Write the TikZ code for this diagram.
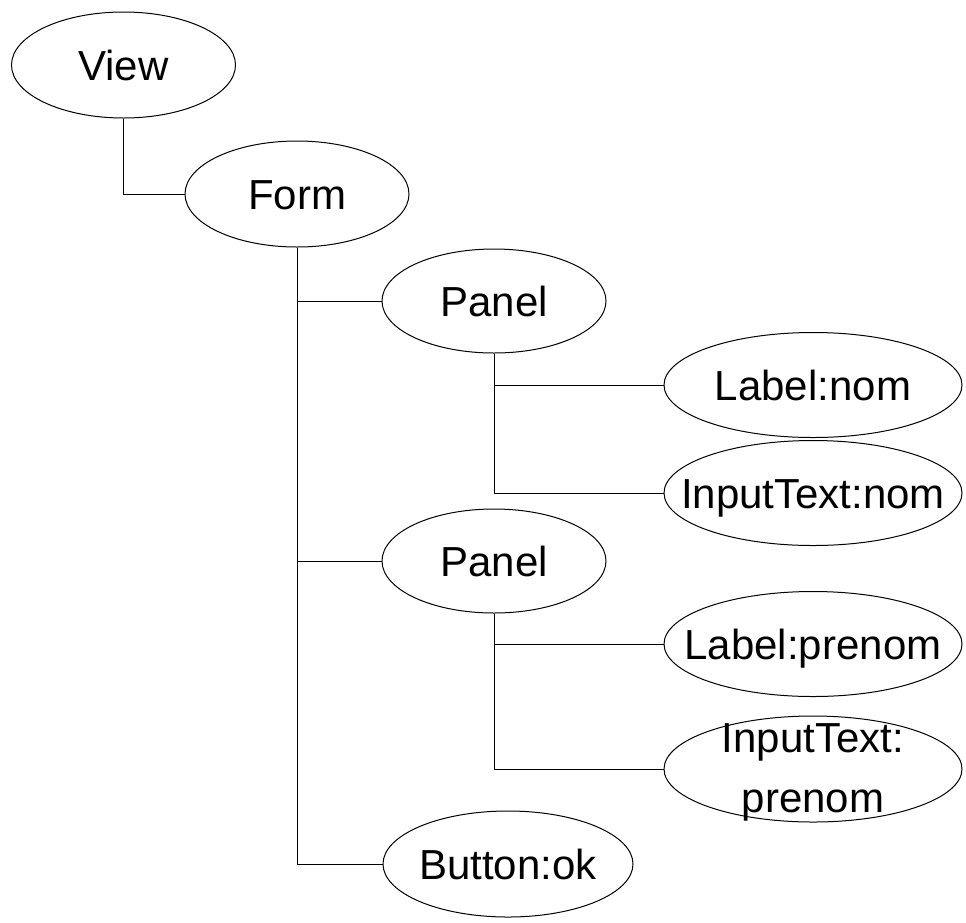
\documentclass[tikz,border=0pt]{standalone}
\usepackage{fontspec}
\setmainfont{Liberation Sans}
\usetikzlibrary{shapes.geometric}

\begin{document}
\begin{tikzpicture}[x=1pt, y=-1pt,
    obj/.style={draw, ellipse, inner sep=0pt, line width=1pt},
    small/.style={minimum width=224pt, minimum height=104pt},
    wide/.style={minimum width=298pt, minimum height=105pt},
    every label/.style={font=\fontsize{42}{60}\selectfont, inner sep=0pt,
        text height=30pt, text depth=0pt, align=center},
    link/.style={line width=1pt}]
    \useasboundingbox (0,0) rectangle (966,922);

    \node[obj, small, minimum height=106pt, label=center:View] (view) at (123.5,65) {};
    \node[obj, small, minimum height=106pt, label=center:Form] (form) at (297,194) {};

    \node[obj, small, label=center:Panel] (panelA) at (494,301) {};
    \node[obj, wide, label={center:{Label:nom}}] (labnom) at (813,385) {};
    \node[obj, wide, label={center:{InputText:nom}}] (inpnom) at (813,493) {};

    \node[obj, small, label=center:Panel] (panelB) at (494,561) {};
    \node[obj, wide, label={center:{Label:prenom}}] (labpre) at (813,644) {};
    \node[obj, wide, minimum height=106pt,
        label={[text height=86pt]center:{InputText:\\prenom}}] (inppre) at (813,769) {};

    \node[obj, minimum width=250pt, minimum height=106pt, label={center:{Button:ok}}] (btnok) at (508,864) {};

    \draw[link] (view.south) |- (form.west);

    \draw[link] (form.south) |- (panelA.west);
    \draw[link] (form.south) |- (panelB.west);
    \draw[link] (form.south) |- (btnok.west);

    \draw[link] (panelA.south) |- (labnom.west);
    \draw[link] (panelA.south) |- (inpnom.west);

    \draw[link] (panelB.south) |- (labpre.west);
    \draw[link] (panelB.south) |- (inppre.west);
\end{tikzpicture}
\end{document}
